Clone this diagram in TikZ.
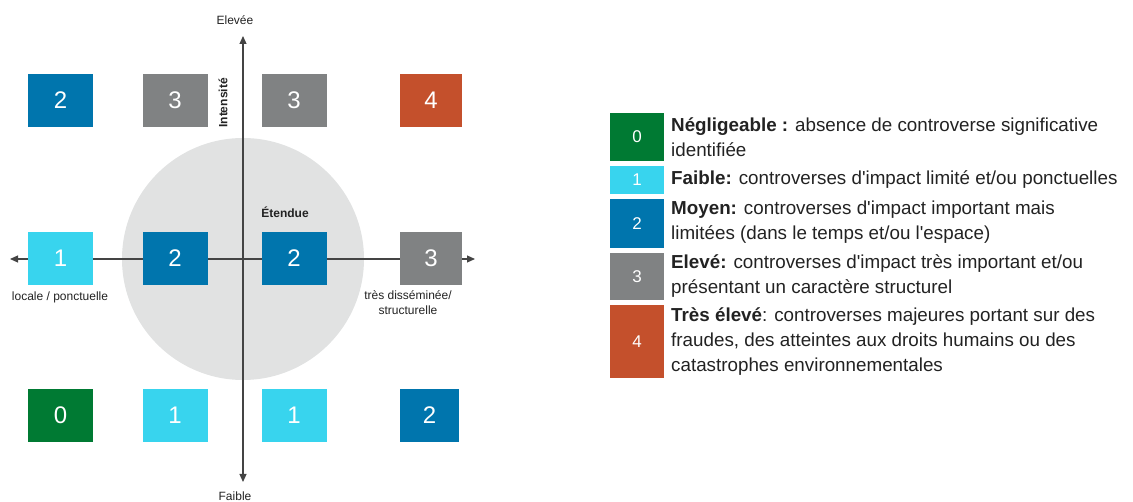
\documentclass[tikz,border=0pt]{standalone}
\usepackage{fontspec}
\setmainfont{Liberation Sans}
\usetikzlibrary{arrows.meta}
\definecolor{cgreen}{HTML}{007A33}
\definecolor{ccyan}{HTML}{38D4EE}
\definecolor{cblue}{HTML}{0075AD}
\definecolor{cgray}{HTML}{808283}
\definecolor{cred}{HTML}{C4502C}
\definecolor{ccircle}{HTML}{E1E2E2}
\definecolor{caxis}{HTML}{444444}
\definecolor{ctext}{HTML}{222222}
\newcommand{\apo}{\textquotesingle}
\tikzset{
  sq/.style={rectangle, inner sep=0pt, minimum width=65pt, minimum height=53pt,
    text=white, font=\fontsize{24}{26}\selectfont},
  lsq/.style={rectangle, inner sep=0pt, minimum width=54pt,
    text=white, font=\fontsize{17}{19}\selectfont},
  legtxt/.style={anchor=west, inner sep=0pt, align=left, text=ctext,
    font=\fontsize{18.8}{25}\selectfont},
  axlbl/.style={inner sep=0pt, text=ctext, font=\fontsize{12}{15}\selectfont, align=center},
  axis/.style={draw=caxis, line width=1.2pt, {Triangle[length=8pt,width=7pt]}-{Triangle[length=8pt,width=7pt]}},
}
\begin{document}
\begin{tikzpicture}[x=1pt,y=-1pt]
\useasboundingbox (0,0) rectangle (1133,502);
% circle
\node[circle, fill=ccircle, minimum size=242pt, inner sep=0pt] (disc) at (243,259) {};
% axes
\coordinate (atop) at (243,36);
\coordinate (abot) at (243,482);
\coordinate (aleft) at (10,259);
\coordinate (aright) at (475,259);
\draw[axis] (aleft) -- (aright);
\draw[axis] (abot) -- (atop);
% axis labels
\node[axlbl] (elevee) at (235,20) {Elevée};
\node[axlbl] (faible) at (235,496) {Faible};
\node[axlbl, font=\bfseries\fontsize{12}{15}\selectfont, rotate=90] (intens) at (223,103) {Intensité};
\node[axlbl, font=\bfseries\fontsize{12}{15}\selectfont] (etendue) at (285,212) {Étendue};
\node[axlbl] (locale) at (60,297) {locale / ponctuelle};
\node[axlbl, font=\fontsize{12}{15}\selectfont, anchor=north] (tres) at (408,290) {très disséminée/\\structurelle};
% grid boxes
\node[sq, fill=cblue] (b11) at (60.5,100.5) {2};
\node[sq, fill=cgray] (b12) at (175,100.5) {3};
\node[sq, fill=cgray] (b13) at (294,100.5) {3};
\node[sq, fill=cred, minimum width=62pt] (b14) at (431,100.5) {4};
\node[sq, fill=ccyan] (b21) at (60.5,258.5) {1};
\node[sq, fill=cblue] (b22) at (175,258.5) {2};
\node[sq, fill=cblue] (b23) at (294,258.5) {2};
\node[sq, fill=cgray, minimum width=62pt] (b24) at (431,258.5) {3};
\node[sq, fill=cgreen] (b31) at (60.5,415.5) {0};
\node[sq, fill=ccyan] (b32) at (175,415.5) {1};
\node[sq, fill=ccyan] (b33) at (294,415.5) {1};
\node[sq, fill=cblue, minimum width=59pt] (b34) at (429.5,415.5) {2};
% legend
\node[lsq, fill=cgreen, minimum height=48pt] (l0) at (637,137) {0};
\node[lsq, fill=ccyan, minimum height=28pt] (l1) at (637,180) {1};
\node[lsq, fill=cblue, minimum height=49pt] (l2) at (637,223.5) {2};
\node[lsq, fill=cgray, minimum height=47pt] (l3) at (637,276.5) {3};
\node[lsq, fill=cred, minimum height=73pt] (l4) at (637,341.5) {4};
\node[legtxt] (t0) at (671,137.5) {\textbf{Négligeable :} absence de controverse significative\\identifiée};
\node[legtxt] (t1) at (671,180) {\textbf{Faible:} controverses d\apo impact limité et/ou ponctuelles};
\node[legtxt] (t2) at (671,222.5) {\textbf{Moyen:} controverses d\apo impact important mais\\limitées (dans le temps et/ou l\apo espace)};
\node[legtxt] (t3) at (671,276) {\textbf{Elevé:} controverses d\apo impact très important et/ou\\présentant un caractère structurel};
\node[legtxt] (t4) at (671,342) {\textbf{Très élevé}: controverses majeures portant sur des\\fraudes, des atteintes aux droits humains ou des\\catastrophes environnementales};
\end{tikzpicture}
\end{document}
